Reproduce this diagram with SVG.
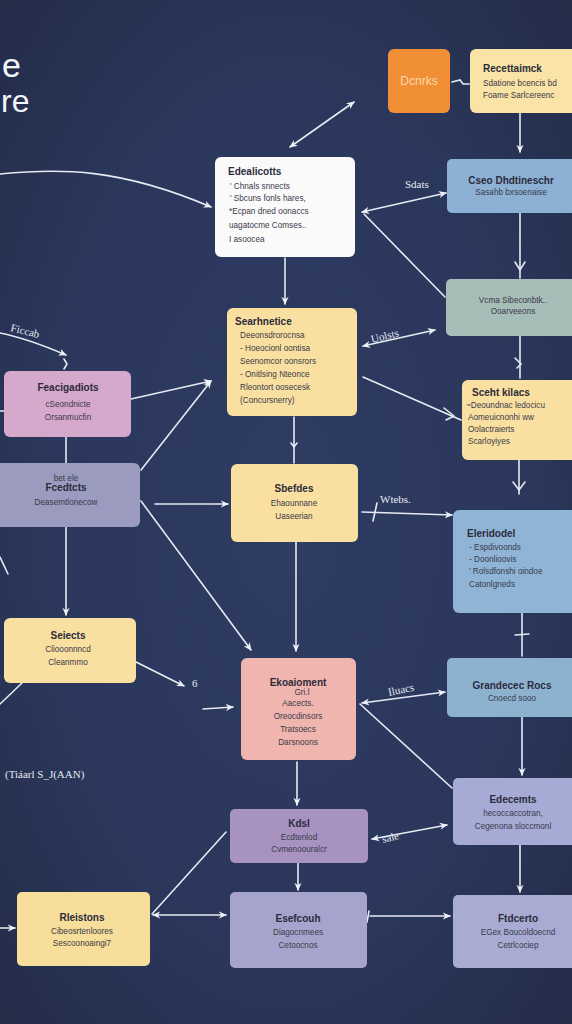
<svg xmlns="http://www.w3.org/2000/svg" width="572" height="1024" viewBox="0 0 572 1024">
<defs>
<radialGradient id="bg" cx="0.5" cy="0.5" r="0.75">
<stop offset="0" stop-color="#2f3c63"/>
<stop offset="0.6" stop-color="#2a365a"/>
<stop offset="1" stop-color="#222b45"/>
</radialGradient>
<marker id="ah" viewBox="0 0 10 10" refX="9" refY="5" markerWidth="8" markerHeight="8" orient="auto-start-reverse" markerUnits="userSpaceOnUse">
<path d="M0,0.5 L10,5 L0,9.5 L3,5 Z" fill="#eef1f8"/>
</marker>
<style>
.c{fill:none;stroke:#e6eaf3;stroke-width:1.6;stroke-linecap:round}
.n{stroke:none}
.t{font-family:"Liberation Sans",Arial,sans-serif;font-weight:bold;font-size:10px;fill:#2b2b3c}
.b{font-family:"Liberation Sans",Arial,sans-serif;font-size:8.2px;fill:#3a3a4a}
.m{text-anchor:middle}
.l{font-family:"Liberation Serif","Times New Roman",serif;font-size:11px;fill:#e6eaf3}
</style>
</defs>
<rect width="572" height="1024" fill="url(#bg)"/>
<g id="title" font-family="Liberation Sans,Arial,sans-serif" fill="#f4f6fb">
<text x="2" y="77" font-size="34">e</text>
<text x="1" y="112" font-size="32">re</text>
</g>

<g id="connectors">
<path class="c" d="M0 174 C 60 168, 120 168, 211 207" marker-end="url(#ah)"/>
<line class="c" x1="290" y1="147" x2="354" y2="102" marker-start="url(#ah)" marker-end="url(#ah)"/>
<path class="c" d="M452 82 L460 80 L463 84 L469 84"/>
<line class="c" x1="520" y1="113" x2="520" y2="152" marker-end="url(#ah)"/>
<line class="c" x1="362" y1="212" x2="446" y2="193" marker-start="url(#ah)" marker-end="url(#ah)"/>
<line class="c" x1="364" y1="214" x2="445" y2="297"/>
<line class="c" x1="520" y1="213" x2="520" y2="278"/>
<path class="c" d="M515 262 L520 270 L525 262"/>
<line class="c" x1="285" y1="258" x2="285" y2="304" marker-end="url(#ah)"/>
<line class="c" x1="520" y1="336" x2="520" y2="378"/>
<path class="c" d="M515 358 L521 364 L517 368"/>
<line class="c" x1="363" y1="346" x2="435" y2="330" marker-start="url(#ah)" marker-end="url(#ah)"/>
<line class="c" x1="363" y1="377" x2="461" y2="420"/>
<path class="c" d="M444 408 L454 416 L446 420"/>
<line class="c" x1="294" y1="417" x2="294" y2="463"/>
<path class="c" d="M291 443 L294 447 L297 443"/>
<line class="c" x1="519" y1="460" x2="519" y2="494"/>
<path class="c" d="M513 482 L519 490 L525 482"/>
<path class="c" d="M0 333 C 25 338, 45 346, 66 355" marker-end="url(#ah)"/>
<path class="c" d="M64 359 L67 364 L64 369"/>
<line class="c" x1="131" y1="399" x2="211" y2="381" marker-end="url(#ah)"/>
<line class="c" x1="141" y1="470" x2="211" y2="381" marker-end="url(#ah)"/>
<line class="c" x1="66" y1="437" x2="66" y2="463"/>
<line class="c" x1="0" y1="411" x2="4" y2="411"/>
<line class="c" x1="155" y1="504" x2="228" y2="504" marker-end="url(#ah)"/>
<line class="c" x1="141" y1="501" x2="251" y2="650" marker-end="url(#ah)"/>
<line class="c" x1="66" y1="527" x2="66" y2="615" marker-end="url(#ah)"/>
<line class="c" x1="362" y1="512" x2="452" y2="515" marker-end="url(#ah)"/>
<line class="c" x1="377" y1="503" x2="373" y2="521"/>
<line class="c" x1="296" y1="542" x2="296" y2="651" marker-end="url(#ah)"/>
<line class="c" x1="522" y1="613" x2="522" y2="656"/>
<line class="c" x1="515" y1="635" x2="529" y2="634"/>
<line class="c" x1="136" y1="662" x2="184" y2="686" marker-end="url(#ah)"/>
<line class="c" x1="203" y1="709" x2="233" y2="707" marker-end="url(#ah)"/>
<line class="c" x1="22" y1="683" x2="0" y2="704"/>
<line class="c" x1="0" y1="557" x2="8" y2="574"/>
<line class="c" x1="362" y1="703" x2="445" y2="692" marker-start="url(#ah)" marker-end="url(#ah)"/>
<line class="c" x1="452" y1="788" x2="360" y2="704"/>
<line class="c" x1="522" y1="717" x2="522" y2="775" marker-end="url(#ah)"/>
<line class="c" x1="297" y1="762" x2="297" y2="805" marker-end="url(#ah)"/>
<line class="c" x1="372" y1="839" x2="447" y2="825" marker-start="url(#ah)" marker-end="url(#ah)"/>
<line class="c" x1="298" y1="863" x2="298" y2="890" marker-end="url(#ah)"/>
<line class="c" x1="520" y1="845" x2="520" y2="892" marker-end="url(#ah)"/>
<line class="c" x1="152" y1="914" x2="226" y2="832"/>
<line class="c" x1="153" y1="915" x2="226" y2="915" marker-start="url(#ah)" marker-end="url(#ah)"/>
<line class="c" x1="370" y1="916" x2="450" y2="916" marker-end="url(#ah)"/>
<line class="c" x1="369" y1="911" x2="367" y2="922"/>
<line class="c" x1="0" y1="928" x2="15" y2="928" marker-end="url(#ah)"/>
</g>

<g id="labels">
<text class="l" x="405" y="188">Sdats</text>
<text class="l" x="372" y="343" transform="rotate(-14 372 343)">Uolsts</text>
<text class="l" x="10" y="331" transform="rotate(14 10 331)">Ficcab</text>
<text class="l" x="380" y="503">Wtebs.</text>
<text class="l" x="192" y="687">6</text>
<text class="l" x="389" y="696" transform="rotate(-12 389 696)">Iluacs</text>
<text class="l" x="383" y="843" transform="rotate(-14 383 843)">sale</text>
<text class="l" x="5" y="778">(Tiáarl S_J(AAN)</text>
</g>

<g id="n-dcnrks">
<rect class="n" x="388" y="49" width="62" height="64" rx="6" fill="#f08f36"/>
<text x="419" y="85" font-family="Liberation Sans,Arial,sans-serif" font-size="12" fill="#fbd9a8" text-anchor="middle">Dcnrks</text>
</g>
<g id="n-recettaimck">
<rect class="n" x="470" y="49" width="110" height="64" rx="6" fill="#f9e3a6"/>
<text class="t" x="483" y="72">Recettaimck</text>
<text class="b" x="483" y="86">Sdatione bcencis bd</text>
<text class="b" x="483" y="98">Foame Sarlcereenc</text>
</g>
<g id="n-edealicotts">
<rect class="n" x="215" y="157" width="140" height="100" rx="6" fill="#fafafa"/>
<text class="t" x="228" y="175">Edealicotts</text>
<text class="b" x="230" y="189">' Chnals snnects</text>
<text class="b" x="230" y="201">' Sbcuns  fonls hares,</text>
<text class="b" x="229" y="214">*Ecpan dned oonaccs</text>
<text class="b" x="229" y="228">uagatocme Comses..</text>
<text class="b" x="229" y="242">I asoocea</text>
</g>
<g id="n-cseo">
<rect class="n" x="447" y="159" width="135" height="54" rx="5" fill="#8db1d4"/>
<text class="t m" x="511" y="184">Cseo Dhdtineschr</text>
<text class="b m" x="511" y="195">Sasahb bxsoenaise</text>
</g>
<g id="n-vcma">
<rect class="n" x="446" y="279" width="136" height="57" rx="5" fill="#a6bdb8"/>
<text class="b m" x="513" y="303">Vcma Sibeconbtk..</text>
<text class="b m" x="513" y="314">Ooarveeons</text>
</g>
<g id="n-searhnetice">
<rect class="n" x="227" y="308" width="130" height="108" rx="6" fill="#f9e0a0"/>
<text class="t" x="235" y="325">Searhnetice</text>
<text class="b" x="240" y="338">Deeonsdrorocnsa</text>
<text class="b" x="240" y="351">- Hoeocionl oontisa</text>
<text class="b" x="240" y="364">Seenomcor oonsrors</text>
<text class="b" x="240" y="377">- Onitlsing  Nteonce</text>
<text class="b" x="240" y="390">Rleontort oosecesk</text>
<text class="b" x="240" y="403">(Concursnerry)</text>
</g>
<g id="n-scehrkilacs">
<rect class="n" x="462" y="380" width="120" height="80" rx="6" fill="#f9e0a0"/>
<text class="t" x="472" y="396">Sceht kilacs</text>
<text class="b" x="466" y="408">~Deoundnac ledocicu</text>
<text class="b" x="468" y="420">Aomeuicnonhi ww</text>
<text class="b" x="468" y="432">Oolactraierts</text>
<text class="b" x="468" y="444">Scarloyiyes</text>
</g>
<g id="n-feacigadiots">
<rect class="n" x="4" y="371" width="127" height="66" rx="6" fill="#d6a8cb"/>
<text class="t m" x="68" y="391">Feacigadiots</text>
<text class="b m" x="68" y="407">cSeondnicte</text>
<text class="b m" x="68" y="420">Orsanmucfin</text>
</g>
<g id="n-fcedtcts">
<rect class="n" x="-6" y="463" width="146" height="64" rx="6" fill="#9b9bbf"/>
<text class="b m" x="66" y="481" font-size="6.5">bet ele</text>
<text class="t m" x="66" y="491">Fcedtcts</text>
<text class="b m" x="66" y="505">Deasemtlonecow</text>
</g>
<g id="n-sbefdes">
<rect class="n" x="231" y="464" width="127" height="78" rx="6" fill="#f9e0a0"/>
<text class="t m" x="294" y="492">Sbefdes</text>
<text class="b m" x="294" y="506">Ehaounnane</text>
<text class="b m" x="294" y="519">Uaseerian</text>
</g>
<g id="n-eleridodel">
<rect class="n" x="453" y="510" width="129" height="103" rx="6" fill="#8fb4d6"/>
<text class="t" x="467" y="537">Eleridodel</text>
<text class="b" x="469" y="550">- Espdivoonds</text>
<text class="b" x="469" y="562">- Doonlioovis</text>
<text class="b" x="469" y="574">' Rolsdfonshi oindoe</text>
<text class="b" x="469" y="587">Catonlgneds</text>
</g>
<g id="n-seiects">
<rect class="n" x="4" y="618" width="132" height="65" rx="6" fill="#f9e0a0"/>
<text class="t m" x="68" y="639">Seiects</text>
<text class="b m" x="68" y="652">Cliooonnncd</text>
<text class="b m" x="68" y="665">Cleanmmo</text>
</g>
<g id="n-ekoaioment">
<rect class="n" x="241" y="658" width="115" height="102" rx="6" fill="#f0b5ae"/>
<text class="t m" x="298" y="686">Ekoaioment</text>
<text class="b m" x="302" y="695" font-size="6.5">Gri.l</text>
<text class="b m" x="298" y="706">Aacects.</text>
<text class="b m" x="298" y="719">Oreocdinsors</text>
<text class="b m" x="298" y="732">Tratsoecs</text>
<text class="b m" x="298" y="745">Darsnoons</text>
</g>
<g id="n-grandecec">
<rect class="n" x="447" y="658" width="135" height="59" rx="5" fill="#8db2d0"/>
<text class="t m" x="512" y="689">Grandecec Rocs</text>
<text class="b m" x="512" y="701">Cnoecd sooo</text>
</g>
<g id="n-kdsl">
<rect class="n" x="230" y="809" width="138" height="54" rx="5" fill="#a792c0"/>
<text class="t m" x="299" y="827">Kdsl</text>
<text class="b m" x="299" y="840">Ecdtenlod</text>
<text class="b m" x="299" y="852">Cvmenoouralcr</text>
</g>
<g id="n-edecemts">
<rect class="n" x="453" y="778" width="129" height="67" rx="5" fill="#a6abd5"/>
<text class="t m" x="513" y="803">Edecemts</text>
<text class="b m" x="513" y="816">hecoccaccotran,</text>
<text class="b m" x="513" y="829">Cegenona sloccmonl</text>
</g>
<g id="n-rleistons">
<rect class="n" x="17" y="892" width="133" height="74" rx="5" fill="#f7de9a"/>
<text class="t m" x="82" y="921">Rleistons</text>
<text class="b m" x="82" y="934">Cibeosrtenloores</text>
<text class="b m" x="82" y="946">Sescoonoaingi7</text>
</g>
<g id="n-esefcouh">
<rect class="n" x="230" y="892" width="137" height="76" rx="5" fill="#a6a4cc"/>
<text class="t m" x="298" y="922">Esefcouh</text>
<text class="b m" x="298" y="935">Diagocnmees</text>
<text class="b m" x="298" y="948">Cetoocnos</text>
</g>
<g id="n-ftdcerto">
<rect class="n" x="453" y="895" width="129" height="73" rx="5" fill="#a8abd2"/>
<text class="t m" x="518" y="922">Ftdcerto</text>
<text class="b m" x="518" y="935">EGex Boucoldoecnd</text>
<text class="b m" x="518" y="948">Cetrlcociep</text>
</g>
</svg>
